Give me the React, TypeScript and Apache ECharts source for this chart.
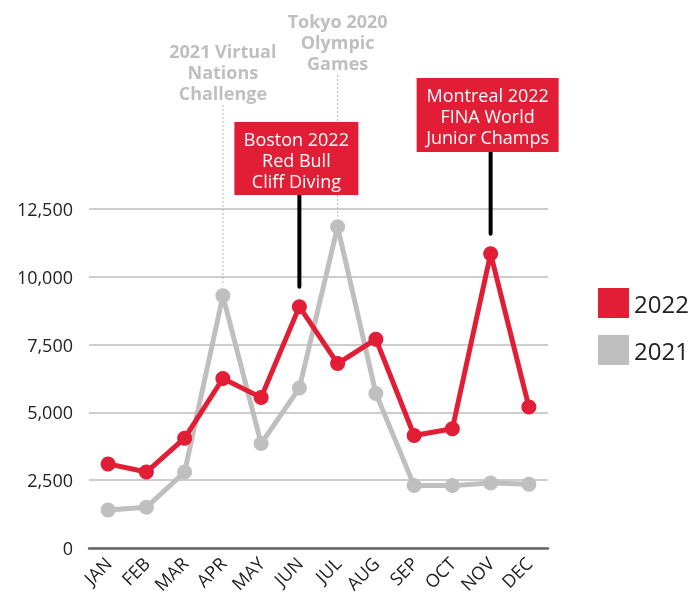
import React, { useEffect, useRef } from "react";
import * as echarts from "echarts";

const months = ["JAN", "FEB", "MAR", "APR", "MAY", "JUN", "JUL", "AUG", "SEP", "OCT", "NOV", "DEC"];
const values2022 = [3100, 2800, 4050, 6250, 5550, 8900, 6800, 7700, 4150, 4400, 10850, 5200];
const values2021 = [1400, 1500, 2800, 9300, 3850, 5900, 11850, 5700, 2300, 2300, 2400, 2350];
const yTicks = [0, 2500, 5000, 7500, 10000, 12500];

const grayNotes = [
  { month: "APR", series: 0, text: "2021 Virtual\nNations\nChallenge", top: 40 },
  { month: "JUL", series: 0, text: "Tokyo 2020\nOlympic\nGames", top: 10 },
];
const redNotes = [
  { month: "JUN", series: 1, text: "Boston 2022\nRed Bull\nCliff Diving", top: 122, width: 124, height: 73 },
  { month: "NOV", series: 1, text: "Montreal 2022\nFINA World\nJunior Champs", top: 78, width: 142, height: 74 },
];

const RED = "#E11E35";
const GRAY = "#BFBFBF";
const FONT = "'Open Sans', 'Noto Sans', sans-serif";

export default function App() {
  const ref = useRef<HTMLDivElement>(null);
  useEffect(() => {
    if (!ref.current) return;
    const chart = echarts.init(ref.current, null, { renderer: "svg" });
    const seriesData = [values2021, values2022];
    chart.setOption({
      animation: false,
      textStyle: { fontFamily: FONT },
      grid: { left: 89, right: 143, top: 209, bottom: 53, containLabel: false },
      legend: {
        orient: "vertical",
        left: 593,
        top: 283,
        itemWidth: 31,
        itemHeight: 30,
        itemGap: 17,
        icon: "rect",
        data: ["2022", "2021"],
        textStyle: { fontSize: 24, color: "#222", fontFamily: FONT },
      },
      xAxis: {
        type: "category",
        data: months,
        boundaryGap: true,
        axisLine: { lineStyle: { color: "#666", width: 2.5 } },
        axisTick: { show: false },
        axisLabel: { rotate: 45, interval: 0, margin: 12, fontSize: 18, color: "#222", fontFamily: FONT },
        splitLine: { show: false },
      },
      yAxis: {
        type: "value",
        min: yTicks[0],
        max: yTicks[yTicks.length - 1],
        interval: 2500,
        axisLine: { show: false },
        axisTick: { show: false },
        axisLabel: {
          margin: 16,
          fontSize: 18,
          color: "#222",
          fontFamily: FONT,
          formatter: (v: number) => v.toLocaleString("en-US"),
        },
        splitLine: { lineStyle: { color: "#BDBDBD", width: 1.5 } },
      },
      series: [
        {
          name: "2021",
          type: "line",
          data: values2021,
          symbol: "circle",
          symbolSize: 15,
          lineStyle: { color: GRAY, width: 5 },
          itemStyle: { color: GRAY },
          z: 2,
        },
        {
          name: "2022",
          type: "line",
          data: values2022,
          symbol: "circle",
          symbolSize: 15,
          lineStyle: { color: RED, width: 5 },
          itemStyle: { color: RED },
          z: 3,
        },
      ],
    });

    const graphics: any[] = [];
    const px = (month: string, s: number) => {
      const i = months.indexOf(month);
      return chart.convertToPixel({ seriesIndex: s }, [i, seriesData[s][i]]) as number[];
    };
    grayNotes.forEach((n) => {
      const [x, y] = px(n.month, n.series);
      graphics.push({
        type: "text",
        x,
        y: n.top,
        style: {
          text: n.text,
          fill: GRAY,
          font: `bold 18px ${FONT}`,
          lineHeight: 21,
          align: "center",
          verticalAlign: "top",
        },
      });
      graphics.push({
        type: "line",
        shape: { x1: x, y1: n.top + 63 + 2, x2: x, y2: y - 10 },
        style: { stroke: GRAY, lineWidth: 1.2, lineDash: [2, 2] },
        z: 1,
      });
    });
    redNotes.forEach((n) => {
      const [x, y] = px(n.month, n.series);
      const cx = x - 3;
      graphics.push({
        type: "line",
        shape: { x1: x, y1: n.top + n.height, x2: x, y2: y - 20 },
        style: { stroke: "#000", lineWidth: 4, lineCap: "round" },
        z: 5,
      });
      graphics.push({
        type: "rect",
        shape: { x: cx - n.width / 2, y: n.top, width: n.width, height: n.height },
        style: { fill: RED },
        z: 6,
      });
      graphics.push({
        type: "text",
        x: cx,
        y: n.top + n.height / 2 + 1,
        style: {
          text: n.text,
          fill: "#fff",
          font: `18px ${FONT}`,
          lineHeight: 21,
          align: "center",
          verticalAlign: "middle",
        },
        z: 7,
      });
    });
    chart.setOption({ graphic: graphics });
    return () => chart.dispose();
  }, []);
  return <div ref={ref} style={{ position: "fixed", left: 0, top: 0, width: 691, height: 601 }} />;
}
